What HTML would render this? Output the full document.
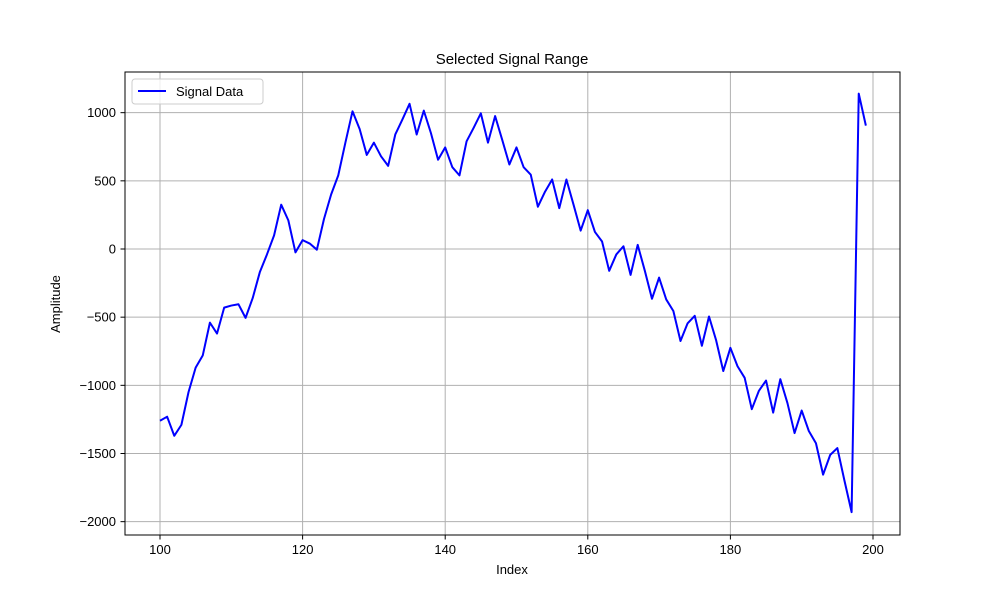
<!DOCTYPE html>
<html><head><meta charset="utf-8">
<style>
html,body{margin:0;padding:0;background:#fff;}
svg{display:block;font-family:"Liberation Sans","DejaVu Sans",sans-serif;}
</style></head>
<body>
<svg id="chart" width="1000" height="600" viewBox="0 0 1000 600">
  <rect x="0" y="0" width="1000" height="600" fill="#fff"/>
  <g id="grid"></g>
  <g id="series"></g>
  <rect x="125" y="72" width="775" height="463" fill="none" stroke="#000" stroke-width="1"/>
  <g id="ticks"></g>
  <text x="512" y="64" text-anchor="middle" font-size="15">Selected Signal Range</text>
  <text x="512" y="574" text-anchor="middle" font-size="13">Index</text>
  <text x="60" y="304" text-anchor="middle" font-size="13" transform="rotate(-90 60 304)">Amplitude</text>
  <g>
    <rect x="132" y="79" width="131" height="25" rx="3" fill="#fff" fill-opacity="0.8" stroke="#ccc"/>
    <line x1="138" y1="91" x2="166" y2="91" stroke="#0000ff" stroke-width="2"/>
    <text x="176" y="96" font-size="13">Signal Data</text>
  </g>
</svg>
<script>
const xStart = 100;
const values = [-1260,-1230,-1370,-1290,-1050,-870,-780,-540,-620,-430,
-415,-405,-505,-360,-170,-40,100,325,210,-25,
65,40,-5,220,400,540,780,1010,880,690,
780,680,610,840,950,1065,840,1015,850,655,
745,600,540,790,890,995,780,975,800,620,
745,600,545,310,420,510,300,510,325,135,
285,125,55,-160,-40,20,-190,30,-160,-365,
-210,-370,-455,-675,-545,-490,-710,-495,-670,-895,
-725,-860,-945,-1175,-1040,-965,-1200,-955,-1130,-1350,
-1185,-1335,-1425,-1655,-1510,-1460,-1700,-1930,1140,905];
const xTicks = [100,120,140,160,180,200];
const yTicks = [-2000,-1500,-1000,-500,0,500,1000];

const NS = "http://www.w3.org/2000/svg";
function xs(v){ return 160 + (v-100)*7.13; }
function ys(v){ return 249 - v*0.13633; }

const grid = document.getElementById('grid');
const ticks = document.getElementById('ticks');
function mk(tag, attrs, parent){
  const e = document.createElementNS(NS, tag);
  for (const k in attrs) e.setAttribute(k, attrs[k]);
  parent.appendChild(e);
  return e;
}
xTicks.forEach(t=>{
  const x = xs(t);
  const g = mk('line',{x1:x,y1:72,x2:x,y2:535,stroke:'#b0b0b0','stroke-width':1},grid);
  
  
  const tk = mk('line',{x1:x,y1:535,x2:x,y2:539.5,stroke:'#000','stroke-width':1},ticks);
  
  
  const lb = mk('text',{x:x,y:554,'text-anchor':'middle','font-size':13},ticks);
  lb.textContent = t;
  
  
});
yTicks.forEach(t=>{
  const y = ys(t);
  const g = mk('line',{x1:125,y1:y,x2:900,y2:y,stroke:'#b0b0b0','stroke-width':1},grid);
  
  
  const tk = mk('line',{x1:120.5,y1:y,x2:125,y2:y,stroke:'#000','stroke-width':1},ticks);
  
  
  const lb = mk('text',{x:116,y:y+4.5,'text-anchor':'end','font-size':13},ticks);
  lb.textContent = t < 0 ? '\u2212' + Math.abs(t) : String(t);
  
  
});
const pts = values.map((v,i)=> xs(xStart+i).toFixed(2)+','+ys(v).toFixed(2)).join(' ');
const line = mk('polyline',{points:pts,fill:'none',stroke:'#0000ff','stroke-width':2,'stroke-linejoin':'round'},document.getElementById('series'));


</script>
</body></html>
